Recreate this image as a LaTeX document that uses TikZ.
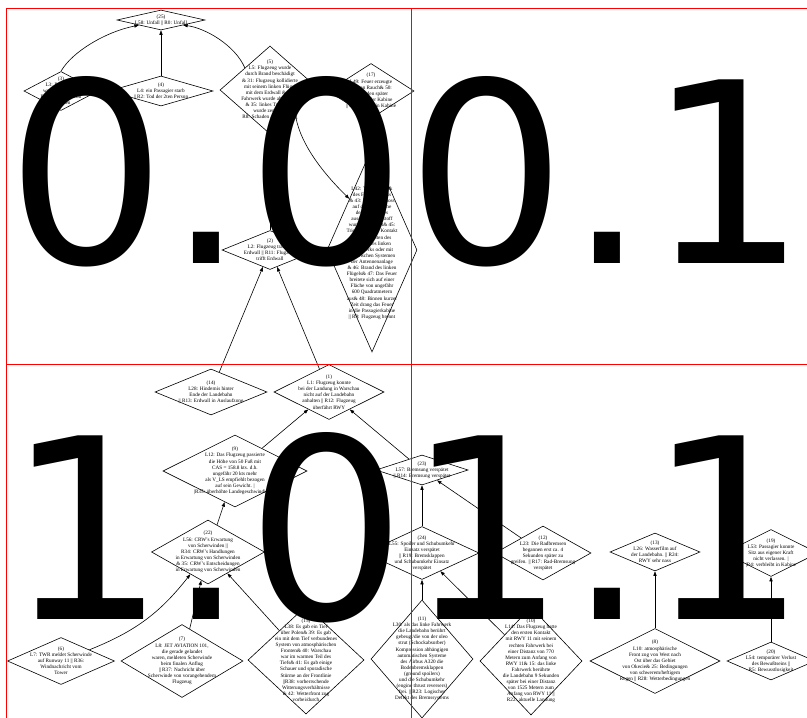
\documentclass[tikz,border=0pt]{standalone}
\usepackage{fontspec}
\setmainfont{Liberation Serif}
\newfontfamily\kachelfont{DejaVu Sans}
\usetikzlibrary{shapes.geometric,arrows.meta}

\begin{document}
\begin{tikzpicture}[x=1pt,y=-1pt,
	raute/.style={draw, shape=diamond, inner sep=0pt, line width=0.6pt},
	txt/.style={font=\fontsize{5.2}{6.1}\selectfont, align=center, inner sep=0pt},
	pfeil/.style={-{Triangle[length=4.5pt,width=3.2pt]}, line width=0.6pt},
	kachel/.style={draw=red, line width=0.8pt},
	nummer/.style={font=\kachelfont\fontsize{252}{252}\selectfont, anchor=base west, inner sep=0pt}]
	\useasboundingbox (0,0) rectangle (807,718);

	% obere Reihe
	\node[raute, minimum width=88, minimum height=20, label={[txt]center:{(25)\\L58: Unfall || R0: Unfall}}] (n25) at (161,20) {};
	\node[raute, minimum width=74, minimum height=39, label={[txt]center:{(3)\\L3: Passagiere\\wurden verletzt ||\\R3: Verletzung von\\Personen}}] (n3) at (61,91) {};
	\node[raute, minimum width=104, minimum height=30, label={[txt]center:{(4)\\L4: ein Passagier starb\\|| R2: Tod der 2ten Person}}] (n4) at (161,91) {};
	\node[raute, minimum width=100, minimum height=88, label={[txt]center:{(5)\\L5: Flugzeug wurde\\durch Brand beschädigt\\\& 31: Flugzeug kollidierte\\mit seinem linken Flügel\\mit dem Erdwall \& 32:\\Fahrwerk wurde abgerissen\\\& 35: linkes Triebwerk\\wurde zerstört ||\\R8: Schaden am Flugzeug}}] (n5) at (270,90) {};
	\node[raute, minimum width=86, minimum height=55, label={[txt]center:{(17)\\L49: Feuer erzeugte\\dichten Rauch\& 50:\\Sekunden später\\Rauch in der Kabine\\|| R15: Rauch in Kabine}}] (n17) at (371,91) {};

	% Erdwall und Brand
	\node[raute, minimum width=96, minimum height=39, label={[txt]center:{(2)\\L2: Flugzeug traf auf\\Erdwall || R11: Flugzeug\\trifft Erdwall}}] (n2) at (270,250) {};
	\node[raute, minimum width=90, minimum height=204, label={[txt]center:{(16)\\L42: Treibstofftank\\des Flugzeugs riss\\\& 43: Treibstoff floss\\auf die Oberfläche\\des Flugplatzes\\aus\& 44: Treibstoff\\wurde entzündet\& 45:\\Triebwerk hatte Kontakt\\mit Elementen des\\Flügels des linken\\Triebwerks oder mit\\elektrischen Systemen\\der Antennenanlage\\\& 46: Brand des linken\\Flügels\& 47: Das Feuer\\breitete sich auf einer\\Fläche von ungefähr\\600 Quadratmetern\\aus\& 48: Binnen kurzer\\Zeit drang das Feuer\\in die Passagierkabine\\|| R9: Flugzeug brennt}}] (n16) at (372,250) {};

	% Landung
	\node[raute, minimum width=112, minimum height=46, label={[txt]center:{(14)\\L28: Hindernis hinter\\Ende der Landebahn\\|| R13: Erdwall in Auslaufzone}}] (n14) at (211,392) {};
	\node[raute, minimum width=110, minimum height=55, label={[txt]center:{(1)\\L1: Flugzeug konnte\\bei der Landung in Warschau\\nicht auf der Landebahn\\anhalten || R12: Flugzeug\\überfährt RWY}}] (n1) at (329,392) {};
	\node[raute, minimum width=144, minimum height=72, label={[txt]center:{(9)\\L12: Das Flugzeug passierte\\die Höhe von 50 Fuß mit\\CAS = 158.8 kts. d.h.\\ungefähr 20 kts mehr\\als V\_LS empfiehlt bezogen\\auf sein Gewicht. |\\|R35: überhöhte Landegeschwindigkeit}}] (n9) at (235,471) {};
	\node[raute, minimum width=92, minimum height=30, label={[txt]center:{(23)\\L57: Bremsung verspätet\\|| R14: Bremsung verspätet}}] (n23) at (422,470) {};

	% mittlere Reihe unten
	\node[raute, minimum width=113, minimum height=64, label={[txt]center:{(22)\\L56: CRW's Erwartung\\von Scherwinden ||\\R34: CRW's Handlungen\\in Erwartung von Scherwinden\\\& 35: CRW's Entscheidungen\\in Erwartung von Scherwinden}}] (n22) at (208,552) {};
	\node[raute, minimum width=114, minimum height=53, label={[txt]center:{(24)\\L55: Spoiler und Schubumkehr\\Einsatz verspätet\\|| R19: Bremsklappen\\und Schubumkehr Einsatz\\verspätet}}] (n24) at (422,553) {};
	\node[raute, minimum width=96, minimum height=54, label={[txt]center:{(12)\\L23: Die Radbremsen\\begannen erst ca. 4\\Sekunden später zu\\greifen. || R17: Rad-Bremsung\\verspätet}}] (n12) at (543,553) {};
	\node[raute, minimum width=90, minimum height=38, label={[txt]center:{(13)\\L26: Wasserfilm auf\\der Landebahn. || R24:\\RWY sehr nass}}] (n13) at (655,552) {};
	\node[raute, minimum width=94, minimum height=47, label={[txt]center:{(19)\\L53: Passagier konnte\\Sitz aus eigener Kraft\\nicht verlassen. |\\|R4: verbleibt in Kabine}}] (n19) at (771,553) {};

	% untere Reihe
	\node[raute, minimum width=107, minimum height=47, label={[txt]center:{(6)\\L7: TWR meldet Scherwinde\\auf Runway 11 || R36:\\Windnachricht vom\\Tower}}] (n6) at (61,661) {};
	\node[raute, minimum width=122, minimum height=73, label={[txt]center:{(7)\\L8: JET AVIATION 101,\\die gerade gelandet\\waren, meldeten Scherwinde\\beim finalen Anflug\\|| R37: Nachricht über\\Scherwinde von vorangehendem\\Flugzeug}}] (n7) at (182,661) {};
	\node[raute, minimum width=116, minimum height=108, label={[txt]center:{(15)\\L38: Es gab ein Tief\\über Polen\& 39: Es gab\\ein mit dem Tief verbundenes\\System von atmosphärischen\\Fronten\& 40: Warschau\\war im warmen Teil des\\Tiefs\& 41: Es gab einige\\Schauer und sporadische\\Stürme an der Frontlinie\\||R38: vorherrschende\\Witterungsverhältnisse\\\& 42: Wetterfront zog\\vorbei/durch}}] (n15) at (306,660) {};
	\node[raute, minimum width=102, minimum height=118, label={[txt]center:{(11)\\L30: als das linke Fahrwerk\\die Landebahn berührt\\gebeugt/die von der oleo\\strut (Schockabsorber)\\Kompression abhängigen\\automatischen Systeme\\des Airbus A320 die\\Bodenbremsklappen\\(ground spoilers)\\und die Schubumkehr\\(engine thrust reversers)\\frei. || R23: Logischer\\Defekt des Bremssystems}}] (n11) at (422,659) {};
	\node[raute, minimum width=102, minimum height=108, label={[txt]center:{(10)\\L14: Das Flugzeug hatte\\den ersten Kontakt\\mit RWY 11 mit seinem\\rechten Fahrwerk bei\\einer Distanz von 770\\Metern zum Anfang von\\RWY 11\& 15: das linke\\Fahrwerk berührte\\die Landebahn 9 Sekunden\\später bei einer Distanz\\von 1525 Metern zum\\Anfang von RWY 11 ||\\R22: aktuelle Landung}}] (n10) at (531,661) {};
	\node[raute, minimum width=130, minimum height=65, label={[txt]center:{(8)\\L10: atmosphärische\\Front zog von West nach\\Ost über das Gebiet\\von Okecie\& 25: Bedingungen\\von schwerem/heftigem\\Regen || R28: Wetterbedingungen}}] (n8) at (655,661) {};
	\node[raute, minimum width=88, minimum height=38, label={[txt]center:{(20)\\L54: temporärer Verlust\\des Bewußtseins ||\\R5: Bewusstlosigkeit}}] (n20) at (771,661) {};

	% Kanten
	\draw[pfeil] (n3.north) .. controls (72,52) and (105,32) .. (n25.south west);
	\draw[pfeil] (n4) -- (n25);
	\draw[pfeil] (n5.north west) .. controls (235,45) and (205,28) .. (n25.south east);
	\draw[pfeil] (n2) -- (n5);
	\draw[pfeil] (n5.south east) .. controls (298,140) and (320,170) .. (n16.north west);
	\draw[pfeil] (n16) -- (n17);
	\draw[pfeil] (n14) -- (n2);
	\draw[pfeil] (n1) -- (n2);
	\draw[pfeil] (n9) -- (n1);
	\draw[pfeil] (n23) -- (n1);
	\draw[pfeil] (n22) -- (n9);
	\draw[pfeil] (n6) to[bend right=15] (n22);
	\draw[pfeil] (n7) -- (n22);
	\draw[pfeil] (n15) -- (n22);
	\draw[pfeil] (n24) -- (n23);
	\draw[pfeil] (n12) -- (n23);
	\draw[pfeil] (n11) -- (n24);
	\draw[pfeil] (n10) -- (n24);
	\draw[pfeil] (n8) -- (n13);
	\draw[pfeil] (n20) -- (n19);

	% Kachelraender
	\draw[kachel] (6,8) -- (807,8);
	\draw[kachel] (6,364) -- (807,364);
	\draw[kachel] (6,8) -- (6,718);
	\draw[kachel] (411,8) -- (411,718);

	% Kachelnummern
	\node[nummer] (k00) at (6,263) {0.00.1};
	\node[nummer] (k10) at (6,619) {1.01.1};
\end{tikzpicture}
\end{document}
